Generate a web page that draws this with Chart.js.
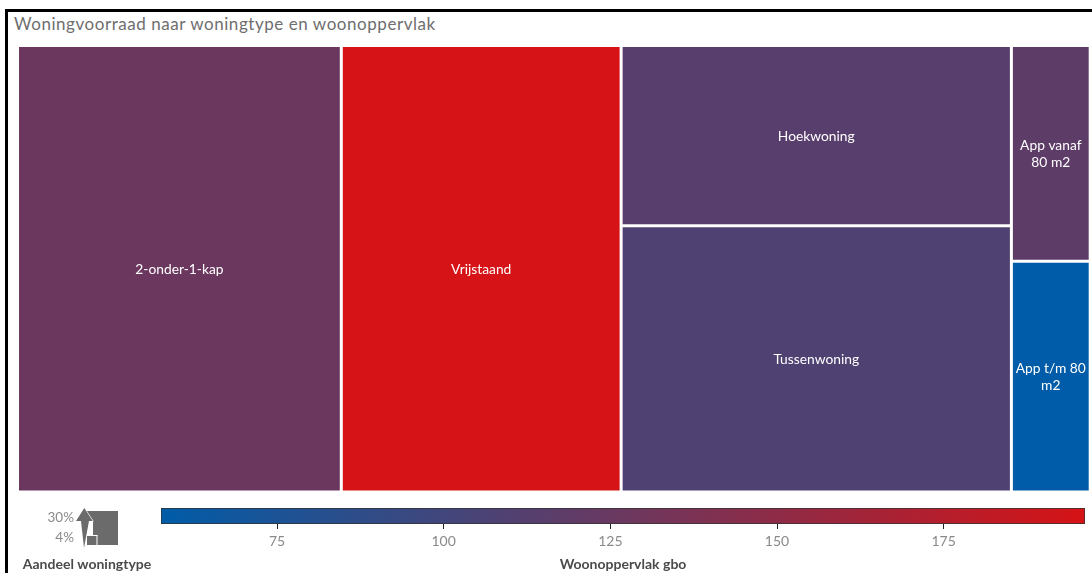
<!DOCTYPE html>
<html lang="nl">
<head>
<meta charset="utf-8">
<title>Woningvoorraad naar woningtype en woonoppervlak</title>
<script src="https://cdn.jsdelivr.net/npm/chart.js@4/dist/chart.umd.js"></script>
<style>
    html, body { margin: 0; padding: 0; background: #fff; overflow: hidden; }
    #page { position: relative; width: 1092px; height: 573px; overflow: hidden; }
    #frame { position: absolute; left: 5px; top: 9px; width: 1087px; height: 564px; border-left: 3px solid #000; border-top: 3px solid #000; }
    #heading { position: absolute; left: 14px; top: 13px; font: 17px Lato, sans-serif; letter-spacing: 0.55px; color: #6e6e6e; white-space: nowrap; }
    canvas { position: absolute; left: 0; }
    #treemap { top: 0; }
    #colorKey { top: 495px; }
</style>
</head>
<body>
<div id="page">
    <div id="frame"></div>
    <div id="heading">Woningvoorraad naar woningtype en woonoppervlak</div>
    <canvas id="treemap" width="1092" height="495"></canvas>
    <canvas id="colorKey" width="1092" height="78"></canvas>
</div>
<script>
// share of the housing stock per type (%), average floor area gbo (m2)
const categories = ['2-onder-1-kap', 'Vrijstaand', 'Hoekwoning', 'Tussenwoning', 'App vanaf 80 m2', 'App t/m 80 m2'];
const shares = [30.2, 26.1, 14.7, 21.7, 3.55, 3.8];
const floorArea = [127, 196.2, 114.5, 108.5, 118.5, 57.6];
// cells that share a column in the slice layout
const columns = [[0], [1], [2, 3], [4, 5]];

const areaMin = 57.6;
const areaMax = 196.2;
const areaTicks = [75, 100, 125, 150, 175];
const lowColor = [0, 92, 168];
const highColor = [214, 19, 22];
const shareLabels = ['30%', '4%'];

function areaColor(value) {
    const t = (value - areaMin) / (areaMax - areaMin);
    const c = lowColor.map((low, i) => Math.round(low + (highColor[i] - low) * t));
    return `rgb(${c[0]},${c[1]},${c[2]})`;
}

// Slice layout: column width follows the column total, cell height its part of that total.
function layoutCells() {
    const total = shares.reduce((a, b) => a + b, 0);
    const cells = [];
    let x = 0;
    columns.forEach(col => {
        const colTotal = col.reduce((sum, i) => sum + shares[i], 0);
        const width = colTotal / total * 100;
        let y = 0;
        col.forEach(i => {
            const height = shares[i] / colTotal * 100;
            cells[i] = { x0: x, x1: x + width, y0: y, y1: y + height };
            y += height;
        });
        x += width;
    });
    return cells;
}

class TreemapController extends Chart.DatasetController {
    update(mode) {
        const rects = this._cachedMeta.data;
        this.updateElements(rects, 0, rects.length, mode);
    }

    updateElements(rects, start, count, mode) {
        const { xScale, yScale } = this._cachedMeta;
        const gap = this.getDataset().gap / 2;
        for (let i = start; i < start + count; i++) {
            const cell = this.getDataset().data[i];
            const left = xScale.getPixelForValue(cell.x0) + gap;
            const right = xScale.getPixelForValue(cell.x1) - gap;
            const top = yScale.getPixelForValue(cell.y0) + gap;
            const bottom = yScale.getPixelForValue(cell.y1) - gap;
            this.updateElement(rects[i], i, {
                x: (left + right) / 2,
                y: top,
                base: bottom,
                width: right - left,
                height: bottom - top,
                horizontal: false,
                inflateAmount: 0,
                borderSkipped: {},
                options: this.resolveDataElementOptions(i, mode)
            }, mode);
        }
    }

    draw() {
        this._cachedMeta.data.forEach(rect => rect.draw(this.chart.ctx));
    }
}
TreemapController.id = 'treemap';
TreemapController.defaults = { dataElementType: 'bar' };
TreemapController.overrides = {};
Chart.register(TreemapController, Chart.BarElement, Chart.LinearScale, Chart.CategoryScale, Chart.BarController);

function wrapLabel(ctx, text, maxWidth) {
    const lines = [];
    let line = '';
    text.split(' ').forEach(word => {
        const next = line ? line + ' ' + word : word;
        if (line && ctx.measureText(next).width > maxWidth) {
            lines.push(line);
            line = word;
        } else {
            line = next;
        }
    });
    lines.push(line);
    return lines;
}

const cellLabels = {
    id: 'cellLabels',
    afterDatasetsDraw(chart) {
        const ctx = chart.ctx;
        ctx.save();
        ctx.font = '13.8px Lato, sans-serif';
        ctx.fillStyle = '#fff';
        ctx.textAlign = 'center';
        ctx.textBaseline = 'middle';
        chart.getDatasetMeta(0).data.forEach((rect, i) => {
            const lines = wrapLabel(ctx, categories[i], rect.width - 4);
            const midY = (rect.y + rect.base) / 2 + 0.5;
            lines.forEach((line, j) => {
                ctx.fillText(line, rect.x, midY + (j - (lines.length - 1) / 2) * 17);
            });
        });
        ctx.restore();
    }
};

new Chart(document.getElementById('treemap'), {
    type: 'treemap',
    data: {
        labels: categories,
        datasets: [{
            data: layoutCells(),
            gap: 3,
            parsing: false,
            backgroundColor: floorArea.map(areaColor),
            borderWidth: 0
        }]
    },
    options: {
        responsive: false,
        animation: false,
        events: [],
        layout: { padding: { left: 17.5, right: 1.8, top: 45.5, bottom: 3 } },
        plugins: { legend: { display: false }, title: { display: false }, tooltip: { enabled: false } },
        scales: {
            x: { type: 'linear', display: false, min: 0, max: 100 },
            y: { type: 'linear', display: false, min: 0, max: 100, reverse: true }
        }
    },
    plugins: [cellLabels]
});

// Size key on the left of the colour ramp: large square, small square, rising arrow.
const sizeKey = {
    id: 'sizeKey',
    afterDraw(chart) {
        const ctx = chart.ctx;
        ctx.save();
        ctx.translate(0, -495);
        ctx.fillStyle = '#6b6b6b';
        ctx.fillRect(85, 511, 33, 34);

        // white notch above the small square
        ctx.fillStyle = '#fff';
        ctx.fillRect(85, 521, 8, 14);
        ctx.fillRect(85, 535, 12.5, 1);
        ctx.fillRect(96.5, 535, 1, 10);
        ctx.fillRect(85, 535, 2, 10);

        ctx.fillStyle = '#6b6b6b';
        ctx.strokeStyle = '#fff';
        ctx.lineWidth = 1.2;
        ctx.beginPath();
        ctx.moveTo(84.3, 508);
        ctx.lineTo(92.7, 521);
        ctx.lineTo(89, 521);
        ctx.lineTo(84, 548);
        ctx.lineTo(81, 521);
        ctx.lineTo(76, 521);
        ctx.closePath();
        ctx.stroke();
        ctx.fill();

        ctx.fillStyle = '#8a8a8a';
        ctx.font = '13.5px Lato, sans-serif';
        ctx.textAlign = 'right';
        ctx.textBaseline = 'middle';
        ctx.fillText(shareLabels[0], 74, 517.5);
        ctx.fillText(shareLabels[1], 74, 537.5);

        ctx.fillStyle = '#4a4a4a';
        ctx.font = 'bold 14px Lato, sans-serif';
        ctx.textAlign = 'center';
        ctx.fillText('Aandeel woningtype', 87, 564);
        ctx.restore();
    }
};

new Chart(document.getElementById('colorKey'), {
    type: 'bar',
    data: {
        labels: ['Woonoppervlak gbo'],
        datasets: [{
            data: [[areaMin, areaMax]],
            barPercentage: 1,
            categoryPercentage: 1,
            borderWidth: 1,
            borderColor: '#333',
            borderSkipped: false,
            backgroundColor(context) {
                const area = context.chart.chartArea;
                if (!area) return areaColor(areaMin);
                const gradient = context.chart.ctx.createLinearGradient(area.left, 0, area.right, 0);
                gradient.addColorStop(0, areaColor(areaMin));
                gradient.addColorStop(1, areaColor(areaMax));
                return gradient;
            }
        }]
    },
    options: {
        indexAxis: 'y',
        responsive: false,
        animation: false,
        events: [],
        layout: { padding: { left: 161, right: 7, top: 13, bottom: 0 } },
        plugins: { legend: { display: false }, title: { display: false }, tooltip: { enabled: false } },
        scales: {
            y: { display: false },
            x: {
                type: 'linear',
                min: areaMin,
                max: areaMax,
                afterBuildTicks(scale) { scale.ticks = areaTicks.map(value => ({ value })); },
                afterFit(scale) { scale.height = 49; },
                border: { display: false },
                grid: { drawOnChartArea: false, tickLength: 5, tickColor: '#222', tickWidth: 1 },
                ticks: { color: '#8a8a8a', font: { family: 'Lato', size: 14 }, padding: 4, maxRotation: 0 },
                title: {
                    display: true,
                    text: 'Woonoppervlak gbo',
                    color: '#4a4a4a',
                    font: { family: 'Lato', size: 14, weight: 'bold' },
                    padding: { top: 11, bottom: 0 }
                }
            }
        }
    },
    plugins: [sizeKey]
});
</script>
</body>
</html>
